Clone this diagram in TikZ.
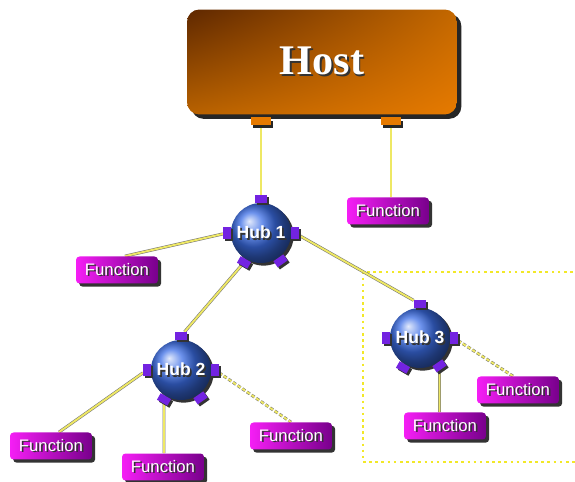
\documentclass[tikz,border=0pt]{standalone}
\usepackage{fontspec}
\setmainfont{Liberation Serif}
\setsansfont{Liberation Sans}
\usetikzlibrary{calc, shadows, shadings, backgrounds}

\definecolor{hostdark}{RGB}{95,40,0}
\definecolor{hostorange}{RGB}{230,122,0}
\definecolor{funclight}{RGB}{245,30,245}
\definecolor{funcdark}{RGB}{120,0,140}
\definecolor{hubblue}{RGB}{60,110,230}
\definecolor{portpurple}{RGB}{115,35,225}
\definecolor{linkyellow}{RGB}{238,232,100}
\definecolor{zoneyellow}{RGB}{242,232,40}

\newcommand{\shadowed}[1]{\makebox[0pt][l]{\hspace{1pt}\raisebox{-1pt}{\color{black!80}#1}}{\color{white}#1}}
\newcommand{\hubports}[1]{%
	\foreach \a/\d in {90/n,180/w,0/e,-120/sw,-55/se}
		{\node [port, rotate=\a-90] (#1-\d) at ($(#1)+(\a:0.68cm)$) {};}}

\begin{document}
\begin{tikzpicture}[x=0.02cm, y=-0.02cm,
		hostbox/.style={rounded corners=7pt, minimum width=5.4cm, minimum height=2.1cm, upper left=hostdark, upper right=hostorange!85!black, lower left=hostorange!80!black, lower right=hostorange, drop shadow={shadow xshift=2.5pt, shadow yshift=-2.5pt, opacity=1, fill=black!85}, font=\bfseries\fontsize{24}{26}\selectfont},
		hostport/.style={minimum width=0.4cm, minimum height=0.15cm, inner sep=0pt, fill=hostorange, drop shadow={shadow xshift=1pt, shadow yshift=-2pt, opacity=1, fill=black!85}},
		funcbox/.style={rounded corners=2pt, minimum width=1.64cm, minimum height=0.54cm, inner sep=0pt, left color=funclight, right color=funcdark, drop shadow={shadow xshift=1.8pt, shadow yshift=-1.8pt, opacity=1, fill=black!80}, font=\sffamily\fontsize{9.5}{10}\selectfont},
		hub/.style={circle, minimum size=1.2cm, inner sep=0pt, ball color=hubblue, drop shadow={shadow xshift=1.5pt, shadow yshift=-1.5pt, opacity=1, fill=black!80}, font=\sffamily\bfseries\fontsize{10}{12}\selectfont},
		port/.style={minimum width=0.24cm, minimum height=0.15cm, inner sep=0pt, fill=portpurple, drop shadow={shadow xshift=1.2pt, shadow yshift=-1.2pt, opacity=1, fill=black!80}},
		link/.style={draw=black!55, line width=0.3pt, double=linkyellow, double distance=1.1pt},
		dotlink/.style={link, dash pattern=on 2pt off 1.2pt}]
		\useasboundingbox (0,0) rectangle (575,482);
		%host
			\node [hostbox] (host) at (322,62) {\shadowed{Host}};
			\node [hostport] (hostp1) at (261,121) {};
			\node [hostport] (hostp2) at (391,121) {};
		%hubs
			\node [hub] (hub1) at (261,233) {\shadowed{Hub 1}};
			\node [hub] (hub2) at (181,370) {\shadowed{Hub 2}};
			\node [hub] (hub3) at (420,338) {\shadowed{Hub 3}};
			\hubports{hub1}
			\hubports{hub2}
			\hubports{hub3}
		%functions
			\node [funcbox] (fhost) at (388,211) {\shadowed{Function}};
			\node [funcbox] (fhub1) at (117,270) {\shadowed{Function}};
			\node [funcbox] (fhub2a) at (51,446) {\shadowed{Function}};
			\node [funcbox] (fhub2b) at (163,467) {\shadowed{Function}};
			\node [funcbox] (fhub2c) at (291,436) {\shadowed{Function}};
			\node [funcbox] (fhub3a) at (518,390) {\shadowed{Function}};
			\node [funcbox] (fhub3b) at (445,426) {\shadowed{Function}};
		%links
		\begin{scope}[on background layer]
			\draw [zoneyellow, line width=1.5pt, dotted] (585,272) -| (363,462) to (585,462);
			\draw [link] (hostp1) to (hub1-n);
			\draw [link] (hostp2) to (hostp2 |- fhost.north);
			\draw [link] (hub1-w) to (fhub1.60);
			\draw [link] (hub1-sw) to (hub2-n);
			\draw [link] (hub1-e) to (hub3-n);
			\draw [link] (hub2-w) to (fhub2a.60);
			\draw [link] (hub2-sw) to (hub2-sw |- fhub2b.north);
			\draw [dotlink] (hub2-e) to (fhub2c.north);
			\draw [dotlink] (hub3-e) to (fhub3a.110);
			\draw [link] (hub3-se) to (hub3-se |- fhub3b.north);
		\end{scope}
\end{tikzpicture}
\end{document}
